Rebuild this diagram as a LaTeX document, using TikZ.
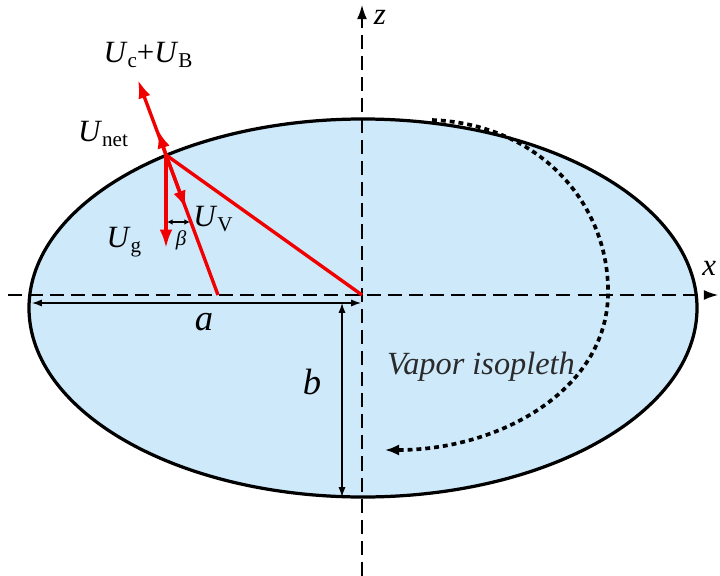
\documentclass[tikz,border=0pt]{standalone}
\usepackage{fontspec}
\setmainfont{Liberation Serif}
\usetikzlibrary{arrows.meta}
\definecolor{dropfill}{HTML}{CDE9FA}
\definecolor{velred}{HTML}{F00000}
\definecolor{isotext}{HTML}{2A2A2A}
\newcommand{\Uvel}[1]{\textit{U}\raisebox{-0.35ex}{\fontsize{15}{15}\selectfont #1}}

\begin{document}
\begin{tikzpicture}[x=0.025cm, y=-0.025cm,
  axis/.style={draw=black, line width=1pt, dash pattern=on 10pt off 5pt},
  dim/.style={draw=black, line width=0.8pt, {Latex[length=7pt,width=5pt]}-{Latex[length=7pt,width=5pt]}},
  vel/.style={draw=velred, line width=2.4pt, -{Latex[length=13pt,width=9pt]}},
  ray/.style={draw=velred, line width=2.4pt},
  iso/.style={draw=black, line width=2.6pt, dash pattern=on 3.5pt off 2.8pt, -{Latex[length=10pt,width=8pt]}},
  lab/.style={font=\fontsize{22}{22}\selectfont},
  dimlab/.style={font=\fontsize{26}{26}\selectfont\itshape},
]
\useasboundingbox (0,0) rectangle (720,576);
% droplet and axes
\draw[fill=dropfill, line width=2.3pt] (363,308) ellipse [x radius=334, y radius=189];
\coordinate (O) at (362,295);
\coordinate (xend) at (718,295);
\coordinate (zend) at (362,5);
\draw[axis, -{Latex[length=10pt,width=7pt]}] (8,295) -- (xend);
\draw[axis, -{Latex[length=10pt,width=7pt]}] (362,576) -- (zend);
\node[lab, anchor=east] (xlab) at (721,268) {\textit{x}};
\node[lab] (zlab) at (380,17) {\textit{z}};
% semi-axes
\coordinate (aleft) at (32,303);
\coordinate (aright) at (361,303);
\coordinate (btop) at (342,303);
\coordinate (bbot) at (342,497);
\draw[dim] (aleft) -- (aright);
\draw[dim] (btop) -- (bbot);
\node[dimlab] (alab) at (204,322) {a};
\node[dimlab] (blab) at (312,382) {b};
% velocities at the surface point
\coordinate (P) at (166,155);
\coordinate (Q) at (218,295);
\coordinate (cb) at (138,80);
\coordinate (net) at (158,130);
\coordinate (g) at (166,248);
\coordinate (v) at (186,209);
\draw[ray] (P) -- (O);
\draw[ray] (P) -- (Q);
\draw[vel] (P) -- (cb);
\draw[vel] (P) -- (net);
\draw[vel] (P) -- (g);
\draw[vel] (P) -- (v);
\coordinate (b1) at (167,222);
\coordinate (b2) at (190,222);
\draw[draw=black, line width=1pt, {Latex[length=4pt,width=4pt]}-{Latex[length=4pt,width=4pt]}] (b1) -- (b2);
\node[font=\fontsize{15}{15}\selectfont\itshape] (beta) at (181,240) {β};
\node[lab] (cblab) at (148,55) {\Uvel{c}+\Uvel{B}};
\node[lab] (netlab) at (103,134) {\Uvel{net}};
\node[lab] (vlab) at (213,219) {\Uvel{V}};
\node[lab] (glab) at (124,242) {\Uvel{g}};
% vapor isopleth
\coordinate (iso0) at (432,120);
\coordinate (iso1) at (608,295);
\coordinate (iso2) at (385,450);
\draw[iso] (iso0) .. controls (540,124) and (610,205) .. (iso1)
  .. controls (606,390) and (500,450) .. (iso2);
\node[font=\fontsize{23}{23}\selectfont\itshape, text=isotext] (isolab) at (481,367) {Vapor isopleth};
\end{tikzpicture}
\end{document}
